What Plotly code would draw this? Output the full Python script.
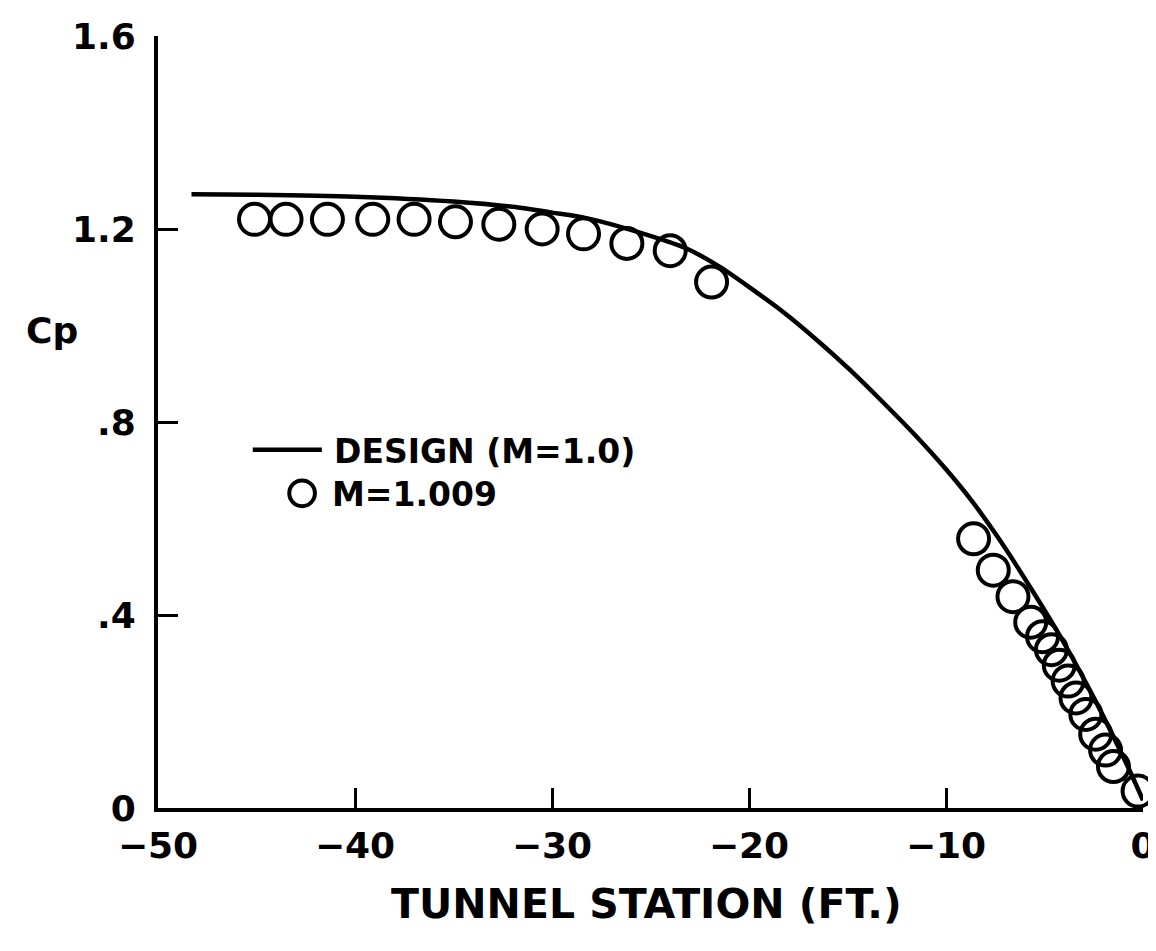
import plotly.graph_objects as go

# Design curve (M=1.0)
design_x = [-48.3, -45.0, -40.0, -35.0, -32.0, -30.0, -28.2, -25.5, -23.2, -21.5,
            -19.9, -18.2, -16.5, -14.9, -13.2, -11.5, -10.0, -8.7, -7.4, -5.7,
            -4.05, -2.4, -0.75, 0.0]
design_y = [1.272, 1.271, 1.267, 1.257, 1.246, 1.234, 1.222, 1.192, 1.160, 1.122,
            1.077, 1.026, 0.968, 0.909, 0.841, 0.770, 0.702, 0.637, 0.563, 0.456,
            0.345, 0.221, 0.084, 0.016]

# Measured, M=1.009
meas_x = [-45.1, -43.5, -41.4, -39.1, -37.0, -34.9, -32.7, -30.5, -28.4, -26.2,
          -24.0, -21.9,
          -8.6, -7.6, -6.6, -5.7, -5.1, -4.65, -4.25, -3.8, -3.4, -2.9, -2.4,
          -1.9, -1.5, -0.25]
meas_y = [1.22, 1.22, 1.22, 1.22, 1.22, 1.215, 1.21, 1.20, 1.19, 1.17,
          1.155, 1.09,
          0.558, 0.493, 0.438, 0.385, 0.355, 0.328, 0.296, 0.263, 0.228, 0.194,
          0.153, 0.12, 0.086, 0.035]

series_names = ["DESIGN (M=1.0)", "M=1.009"]

x_ticks = [-50, -40, -30, -20, -10, 0]
y_ticks = [0, 0.4, 0.8, 1.2, 1.6]
y_ticktext = ["0", ".4", ".8", "1.2", "1.6"]

FONT = "DejaVu Sans"

L, R, T, B = 150, 8, 20, 151
W, H = 1156, 951
PW = W - L - R
PH = H - T - B


def px(pix):
    """pixel column -> paper x"""
    return (pix - L) / PW


def py(pix):
    """pixel row -> paper y"""
    return (H - B - pix) / PH


fig = go.Figure()
fig.add_trace(go.Scatter(
    x=design_x, y=design_y, mode="lines", name=series_names[0],
    line=dict(color="black", width=4.5, shape="spline", smoothing=0.8),
    showlegend=False,
))
fig.add_trace(go.Scatter(
    x=meas_x, y=meas_y, mode="markers", name=series_names[1],
    marker=dict(symbol="circle-open", size=31, color="black",
                line=dict(width=4, color="black")),
    cliponaxis=False, showlegend=False,
))

# hand-drawn style legend (as in the original figure)
leg_line_y = 438
leg_circ_y = 482
shapes = [
    dict(type="line", xref="paper", yref="paper",
         x0=px(246), x1=px(316), y0=py(leg_line_y), y1=py(leg_line_y),
         line=dict(color="black", width=4.5)),
    dict(type="circle", xref="paper", yref="paper",
         x0=px(296 - 13), x1=px(296 + 13),
         y0=py(leg_circ_y + 13), y1=py(leg_circ_y - 13),
         line=dict(color="black", width=4)),
]

leg_font = dict(family=FONT, size=33, color="black", weight="bold")

fig.update_layout(
    width=W, height=H,
    margin=dict(l=L, r=R, t=T, b=B),
    paper_bgcolor="white", plot_bgcolor="white",
    font=dict(family=FONT, color="black"),
    showlegend=False,
    shapes=shapes,
    xaxis=dict(range=[-50, 0], tickvals=x_ticks, ticks="inside", ticklen=20,
               tickwidth=3, tickcolor="black", showline=True, linewidth=4,
               linecolor="black", showgrid=False, zeroline=False,
               ticklabelstandoff=3, ticklabeloverflow="allow",
               tickfont=dict(family=FONT, size=36, color="black", weight="bold")),
    yaxis=dict(range=[0, 1.6], tickvals=y_ticks, ticktext=y_ticktext,
               ticks="inside", ticklen=20, tickwidth=3, tickcolor="black",
               showline=True, linewidth=4, linecolor="black", showgrid=False,
               zeroline=False, ticklabelstandoff=11, ticklabeloverflow="allow",
               tickfont=dict(family=FONT, size=36, color="black", weight="bold")),
    annotations=[
        dict(text=series_names[0], xref="paper", yref="paper", x=px(326),
             y=py(leg_line_y + 2), xanchor="left", yanchor="middle",
             showarrow=False, font=leg_font),
        dict(text=series_names[1], xref="paper", yref="paper", x=px(324),
             y=py(leg_circ_y + 1), xanchor="left", yanchor="middle",
             showarrow=False, font=leg_font),
        dict(text="Cp", xref="paper", yref="paper", x=px(43),
             y=py(318), xanchor="center", yanchor="middle", showarrow=False,
             font=dict(family=FONT, size=36, color="black", weight="bold")),
        dict(text="TUNNEL STATION (FT.)", xref="paper", yref="paper",
             x=px(645), y=py(897), xanchor="center",
             yanchor="middle", showarrow=False,
             font=dict(family=FONT, size=41, color="black", weight="bold")),
    ],
)

fig.write_html("out.html")
